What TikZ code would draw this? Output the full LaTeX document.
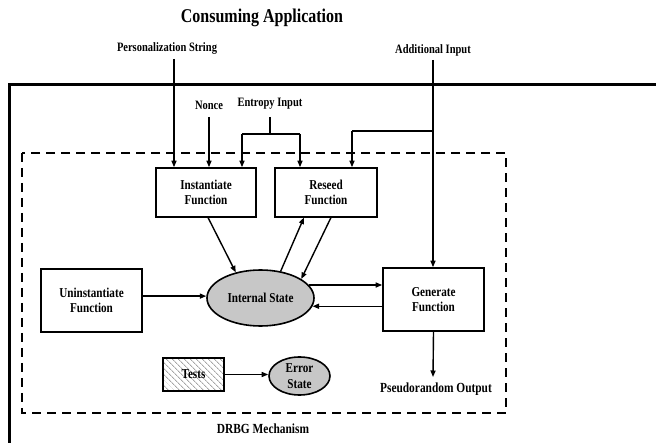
\documentclass[tikz,border=0pt]{standalone}
\usepackage{fontspec}
\setmainfont[FakeStretch=0.82]{Liberation Serif}
\usetikzlibrary{arrows.meta,patterns.meta,shapes.geometric}
\begin{document}
\begin{tikzpicture}[x=1pt,y=-1pt,
  every node/.style={font=\bfseries},
  lbl/.style={font=\fontsize{12.8}{14}\selectfont\bfseries, inner sep=0pt},
  big/.style={font=\fontsize{13.9}{15}\selectfont\bfseries, inner sep=0pt},
  fbox/.style={draw, line width=1.6pt, align=center, inner sep=0pt,
     font=\fontsize{13.6}{14.5}\selectfont\bfseries},
  sbox/.style={draw, ellipse, line width=1.6pt, fill=black!22, align=center, inner sep=0pt,
     font=\fontsize{13.6}{16}\selectfont\bfseries},
  conn/.style={line width=1.4pt},
  arr/.style={conn, -{Triangle[length=6.5pt,width=5pt]}}
]
\useasboundingbox (0,0) rectangle (656,443);
% frames
\draw[line width=2.8pt] (9.5,450) -- (9.5,84.5) -- (670,84.5);
\draw[line width=1.6pt, dash pattern=on 9pt off 6pt] (22,153) rectangle (506,413);
% titles
\node[font=\fontsize{19.5}{21}\selectfont\bfseries, inner sep=0pt] (title) at (262,18) {Consuming Application};
\node[big] (drbg) at (263,429) {DRBG Mechanism};
% boxes
\node[fbox, minimum width=100pt, minimum height=49pt] (inst) at (206,192.5) {Instantiate\\Function};
\node[fbox, minimum width=102pt, minimum height=49pt] (res) at (326,192.5) {Reseed\\Function};
\node[fbox, minimum width=101pt, minimum height=63pt] (un) at (91.5,300.5) {Uninstantiate\\Function};
\node[fbox, minimum width=101pt, minimum height=63pt] (gen) at (433.5,299.5) {Generate\\Function};
\node[fbox, minimum width=61pt, minimum height=33pt,
  pattern={Lines[angle=-45,distance=4pt,line width=0.9pt]}, pattern color=black!35] (tests) at (193.5,374.5) {Tests};
\node[sbox, minimum width=107pt, minimum height=56pt] (ist) at (260.5,298) {Internal State};
\node[sbox, minimum width=61pt, minimum height=38pt] (err) at (299.5,376) {Error\\State};
% input labels
\node[lbl] (pers) at (167,48) {Personalization String};
\node[lbl] (addl) at (433,50) {Additional Input};
\node[lbl] (nonce) at (209,105) {Nonce};
\node[lbl] (ent) at (270,104) {Entropy Input};
\node[big] (prout) at (436,389) {Pseudorandom Output};
% coordinates
\coordinate (pstart) at (174,59);
\coordinate (nstart) at (209,117);
\coordinate (estart) at (270,117);
\coordinate (ejoin) at (270,134);
\coordinate (eleft) at (242,134);
\coordinate (eright) at (300,134);
\coordinate (astart) at (433,60);
\coordinate (abr) at (433,131);
\coordinate (aleft) at (352,131);
\coordinate (oend) at (433,377);
\coordinate (is) at (208,217.5);
\coordinate (rs1) at (304,217.5);
\coordinate (rs2) at (331,217.5);
% input connectors
\draw[arr] (pstart) -- (pstart |- inst.north);
\draw[arr] (nstart) -- (nstart |- inst.north);
\draw[conn] (estart) -- (ejoin);
\draw[conn] (eleft) -- (eright);
\draw[arr] (eleft) -- (eleft |- inst.north);
\draw[arr] (eright) -- (eright |- res.north);
\draw[arr] (astart) -- (astart |- gen.north);
\draw[conn] (abr) -- (aleft);
\draw[arr] (aleft) -- (aleft |- res.north);
% internal connectors
\draw[arr] (is) -- (ist.134);
\draw[arr] (ist.53) -- (rs1);
\draw[arr] (rs2) -- (ist.25);
\draw[arr] (ist.15.5) -- (ist.15.5 -| gen.west);
\draw[arr] (gen.west |- ist.-9) -- (ist.-9);
\draw[arr] (un.east |- ist.178) -- (ist.178);
\draw[arr] (tests.east) -- (tests.east -| err.west);
\draw[arr] (gen.south) -- (oend);
\end{tikzpicture}
\end{document}
